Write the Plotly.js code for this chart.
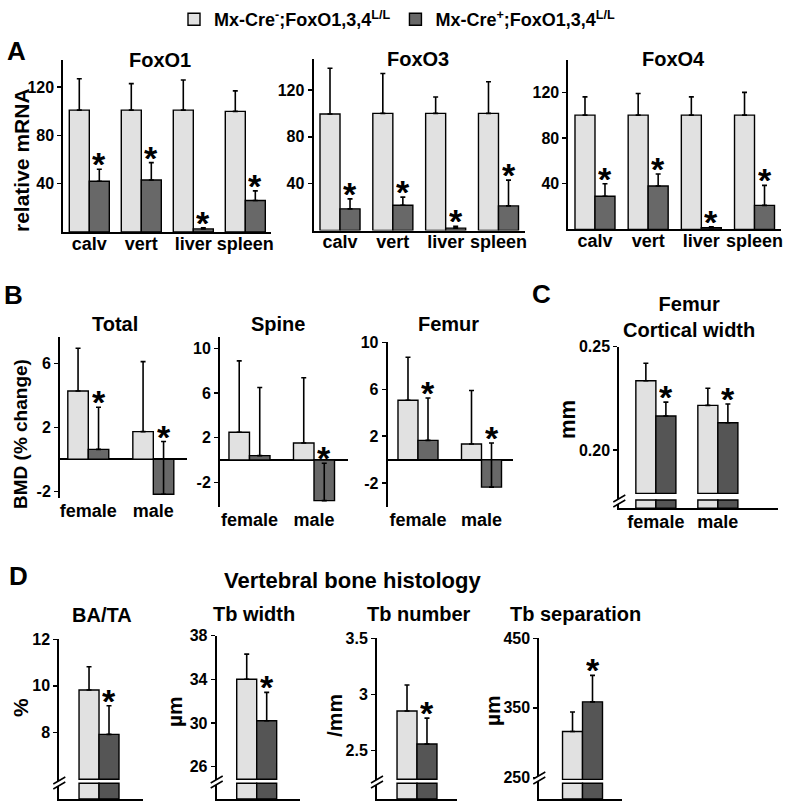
<!DOCTYPE html>
<html><head><meta charset="utf-8">
<script src="https://cdn.plot.ly/plotly-3.0.1.min.js"></script>
<style>html,body{margin:0;padding:0;background:#fff}</style>
</head><body><div id="chart" style="width:800px;height:809px"></div>
<script>
// ---------------- data ----------------
const legendNames = ['Mx-Cre<sup>-</sup>;FoxO1,3,4<sup>L/L</sup>', 'Mx-Cre<sup>+</sup>;FoxO1,3,4<sup>L/L</sup>'];
const geneNames = ['FoxO1', 'FoxO3', 'FoxO4'];
const tissues = ['calv', 'vert', 'liver', 'spleen'];
const foxo1Ctrl = [101, 101, 101, 100];
const foxo1CtrlErr = [26, 22, 25, 17];
const foxo1Ko = [42, 43, 2.5, 26];
const foxo1KoErr = [10, 14.5, 1, 8];
const foxo1Sig = [true, true, true, true];
const foxo3Ctrl = [99.5, 100, 100, 100];
const foxo3CtrlErr = [39, 34, 14, 27];
const foxo3Ko = [18.5, 21.5, 2, 21];
const foxo3KoErr = [8.5, 7, 1.5, 22];
const foxo3Sig = [true, true, true, true];
const foxo4Ctrl = [100, 100, 100, 100];
const foxo4CtrlErr = [16, 19, 16, 20];
const foxo4Ko = [29, 38, 1.5, 21];
const foxo4KoErr = [11, 10.5, 0.7, 17.5];
const foxo4Sig = [true, true, true, true];

const bmdSites = ['Total', 'Spine', 'Femur'];
const sexes = ['female', 'male'];
const totalCtrl = [4.27, 1.73];
const totalCtrlErr = [2.67, 4.37];
const totalKo = [0.62, -2.19];
const totalKoErr = [2.63, 3.3];
const totalSig = [true, true];
const spineCtrl = [2.48, 1.52];
const spineCtrlErr = [6.4, 5.85];
const spineKo = [0.39, -3.64];
const spineKoErr = [6.1, 3.35];
const spineSig = [false, true];
const femurCtrl = [5.06, 1.34];
const femurCtrlErr = [3.67, 4.55];
const femurKo = [1.65, -2.33];
const femurKoErr = [3.6, 3.75];
const femurSig = [true, true];

const corticalTitle = 'Femur<br>Cortical width';
const corticalCtrl = [0.2335, 0.2216];
const corticalCtrlErr = [0.0085, 0.0083];
const corticalKo = [0.2165, 0.2132];
const corticalKoErr = [0.0067, 0.0091];
const corticalSig = [true, true];

const histoTitle = 'Vertebral bone histology';
const histoParams = ['BA/TA', 'Tb width', 'Tb number', 'Tb separation'];
const histoUnits = ['%', 'µm', '/mm', 'µm'];
const histoGroup = ['vertebra'];
const batCtrl = [9.82];   const batCtrlErr = [1.0];   const batKo = [7.91];  const batKoErr = [1.23];
const tbwCtrl = [34.0];   const tbwCtrlErr = [2.3];   const tbwKo = [30.2];  const tbwKoErr = [2.6];
const tbnCtrl = [2.853];  const tbnCtrlErr = [0.232]; const tbnKo = [2.56];  const tbnKoErr = [0.23];
const tbsCtrl = [316];    const tbsCtrlErr = [28];    const tbsKo = [358.6]; const tbsKoErr = [38];
const histoSig = [true];

// ---------------- layout helpers ----------------
const W = 800, H = 809;
const fx = p => p / W;
const fy = p => 1 - p / H;
const LIGHT = '#e1e1e1', DARK = '#686868', DARK2 = '#555555';
const FONT = 'Arial, "Liberation Sans", sans-serif';

const panels = [
  {cats: tissues, ctrl: foxo1Ctrl, ctrlErr: foxo1CtrlErr, ko: foxo1Ko, koErr: foxo1KoErr, sig: foxo1Sig,
   xd: [63.3, 271.3], yd: [231.9, 60], xr: [-0.5, 3.5], yr: [0, 142.6], w: 0.385, yt: [40, 80, 120], xline: true, zero: false, dark: DARK, so: -6},
  {cats: tissues, ctrl: foxo3Ctrl, ctrlErr: foxo3CtrlErr, ko: foxo3Ko, koErr: foxo3KoErr, sig: foxo3Sig,
   xd: [313.6, 524.9], yd: [230.5, 59], xr: [-0.5, 3.5], yr: [0, 146.4], w: 0.379, yt: [40, 80, 120], xline: true, zero: false, dark: DARK, so: -6},
  {cats: tissues, ctrl: foxo4Ctrl, ctrlErr: foxo4CtrlErr, ko: foxo4Ko, koErr: foxo4KoErr, sig: foxo4Sig,
   xd: [568.4, 781.1], yd: [229.4, 60], xr: [-0.5, 3.5], yr: [0, 148.3], w: 0.376, yt: [40, 80, 120], xline: true, zero: false, dark: DARK, so: -6},
  {cats: sexes, ctrl: totalCtrl, ctrlErr: totalCtrlErr, ko: totalKo, koErr: totalKoErr, sig: totalSig,
   xd: [60, 187], yd: [498, 336.7], xr: [-0.435, 1.518], yr: [-2.42, 7.66], w: 0.315, yt: [-2, 2, 6], xline: false, zero: true, dark: DARK, so: 0},
  {cats: sexes, ctrl: spineCtrl, ctrlErr: spineCtrlErr, ko: spineKo, koErr: spineKoErr, sig: spineSig,
   xd: [220, 348], yd: [506.7, 336.7], xr: [-0.457, 1.527], yr: [-4.18, 11.04], w: 0.318, yt: [-2, 2, 6, 10], xline: false, zero: true, dark: DARK, so: 0},
  {cats: sexes, ctrl: femurCtrl, ctrlErr: femurCtrlErr, ko: femurKo, koErr: femurKoErr, sig: femurSig,
   xd: [387.7, 513], yd: [506.7, 341.7], xr: [-0.477, 1.496], yr: [-4.0, 10.05], w: 0.315, yt: [-2, 2, 6, 10], xline: false, zero: true, dark: DARK, so: 0},
  {cats: sexes, ctrl: corticalCtrl, ctrlErr: corticalCtrlErr, ko: corticalKo, koErr: corticalKoErr, sig: corticalSig,
   xd: [619.3, 778], yd: [508.3, 346.7], xr: [-0.59, 1.97], yr: [0.1718, 0.25], w: 0.323, yt: [0.20, 0.25], ytt: ['0.20', '0.25'],
   xline: true, zero: false, dark: DARK2, so: -4, brk: {main: 0.179, stub: 0.1758, mark: [619.3, 502]}},
  {cats: histoGroup, ctrl: batCtrl, ctrlErr: batCtrlErr, ko: batKo, koErr: batKoErr, sig: histoSig, hideX: true,
   xd: [59.3, 143], yd: [799, 639.3], xr: [-0.662, 0.733], yr: [5.13, 12], w: 0.333, yt: [8, 10, 12],
   xline: true, zero: false, dark: DARK2, so: 0, brk: {main: 5.98, stub: 5.805, mark: [59.3, 784]}},
  {cats: histoGroup, ctrl: tbwCtrl, ctrlErr: tbwCtrlErr, ko: tbwKo, koErr: tbwKoErr, sig: histoSig, hideX: true,
   xd: [216.7, 300], yd: [799, 635.6], xr: [-0.667, 0.722], yr: [23.04, 38], w: 0.333, yt: [26, 30, 34, 38],
   xline: true, zero: false, dark: DARK2, so: 0, brk: {main: 24.85, stub: 24.48, mark: [216.7, 783]}},
  {cats: histoGroup, ctrl: tbnCtrl, ctrlErr: tbnCtrlErr, ko: tbnKo, koErr: tbnKoErr, sig: histoSig, hideX: true,
   xd: [377, 456.7], yd: [799, 638.3], xr: [-0.667, 0.662], yr: [2.07, 3.5], w: 0.333, yt: [2.5, 3, 3.5], ytt: ['2.5', '3', '3.5'],
   xline: true, zero: false, dark: DARK2, so: 0, brk: {main: 2.246, stub: 2.21, mark: [377, 783]}},
  {cats: histoGroup, ctrl: tbsCtrl, ctrlErr: tbsCtrlErr, ko: tbsKo, koErr: tbsKoErr, sig: histoSig, hideX: true,
   xd: [539.3, 621.7], yd: [799, 638.3], xr: [-0.72, 0.653], yr: [218.8, 450], w: 0.333, yt: [250, 350, 450],
   xline: true, zero: false, dark: DARK2, so: 0, brk: {main: 247.1, stub: 241.4, mark: [539.3, 779]}}
];

const traces = [];
const layout = {
  width: W, height: H, margin: {l: 0, r: 0, t: 0, b: 0},
  paper_bgcolor: '#fff', plot_bgcolor: 'rgba(0,0,0,0)',
  font: {family: FONT, color: '#000', size: 16, weight: 'bold'},
  barmode: 'overlay', showlegend: true,
  legend: {orientation: 'h', x: fx(174), y: fy(1), xanchor: 'left', yanchor: 'top',
           font: {family: FONT, size: 18, weight: 'bold', color: '#000'}, bgcolor: 'rgba(0,0,0,0)', itemclick: false},
  annotations: [], shapes: []
};

panels.forEach((p, k) => {
  const n = k === 0 ? '' : String(k + 1);
  const xa = 'x' + n, ya = 'y' + n;
  const idx = p.cats.map((_, i) => i);
  const base = p.brk ? p.brk.main : 0;
  const mk = (vals, errs, color, off, name, leg) => {
    const t = {
      type: 'bar', x: idx, y: vals.map(v => v - base), width: p.w, offset: off,
      xaxis: xa, yaxis: ya, name: name, showlegend: leg, hoverinfo: 'skip',
      marker: {color: color, line: {color: '#000', width: 1.4}},
      error_y: {type: 'data', symmetric: false, array: errs, arrayminus: errs.map(() => 0),
                color: '#000', thickness: 1.6, width: 2.5, visible: true}
    };
    if (p.brk) t.base = base;
    return t;
  };
  traces.push(mk(p.ctrl, p.ctrlErr, LIGHT, -p.w, legendNames[0], k === 0));
  traces.push(mk(p.ko, p.koErr, k === 0 ? DARK : p.dark, 0, legendNames[1], k === 0));
  if (p.brk) {
    [[LIGHT, -p.w], [p.dark, 0]].forEach(([c, off]) => {
      traces.push({type: 'bar', x: idx, y: idx.map(() => p.brk.stub - p.yr[0]), base: p.yr[0],
        width: p.w, offset: off, xaxis: xa, yaxis: ya, showlegend: false, hoverinfo: 'skip',
        marker: {color: c, line: {color: '#000', width: 1.4}}});
    });
    const [cx, cy] = p.brk.mark;
    const P = (dx, dy) => fx(cx + dx) + ',' + fy(cy + dy);
    layout.shapes.push({type: 'path', xref: 'paper', yref: 'paper', layer: 'above',
      path: 'M' + P(-6, 0) + 'L' + P(6, -7) + 'L' + P(6, -2) + 'L' + P(-6, 5) + 'Z',
      fillcolor: '#fff', line: {width: 0}});
    layout.shapes.push({type: 'path', xref: 'paper', yref: 'paper', layer: 'above',
      path: 'M' + P(-6, 0) + 'L' + P(6, -7) + 'M' + P(-6, 5) + 'L' + P(6, -2),
      line: {color: '#000', width: 1.5}});
  }
  layout['xaxis' + n] = {
    domain: [fx(p.xd[0]), fx(p.xd[1])], anchor: ya, range: p.xr, type: 'linear',
    tickvals: idx, ticktext: p.cats, showticklabels: !p.hideX, ticks: '', ticklabelstandoff: p.so,
    tickfont: {size: 18, family: FONT, weight: 'bold'},
    showgrid: false, zeroline: false, showline: p.xline, linecolor: '#000', linewidth: 2, fixedrange: true
  };
  layout['yaxis' + n] = {
    domain: [fy(p.yd[0]), fy(p.yd[1])], anchor: xa, range: p.yr, type: 'linear',
    tickvals: p.yt, ticktext: p.ytt || p.yt.map(String), ticks: 'outside', ticklen: 4, tickwidth: 1.5, tickcolor: '#000',
    tickfont: {size: 16, family: FONT, weight: 'bold'},
    showgrid: false, zeroline: p.zero, zerolinecolor: '#000', zerolinewidth: 2,
    showline: true, linecolor: '#000', linewidth: 2, fixedrange: true
  };
  p.sig.forEach((s, i) => {
    if (!s) return;
    layout.annotations.push({xref: xa, yref: ya, x: i + p.w / 2, y: p.ko[i] + p.koErr[i], text: '*',
      showarrow: false, xanchor: 'center', yanchor: 'bottom', yshift: 3,
      height: 20, valign: 'top', borderpad: 0,
      font: {size: 34, family: FONT, weight: 'bold'}});
  });
});

const note = (text, x, y, size, angle) => layout.annotations.push({
  xref: 'paper', yref: 'paper', x: fx(x), y: fy(y), text: text, showarrow: false,
  xanchor: 'center', yanchor: 'middle', textangle: angle || 0,
  font: {size: size, family: FONT, weight: 'bold', color: '#000'}});

note('A', 16, 51, 26); note('B', 13, 295, 26); note('C', 541, 294, 26); note('D', 18, 576, 26);
note(geneNames[0], 160, 60, 20); note(geneNames[1], 418, 59, 20); note(geneNames[2], 673, 59, 20);
note(bmdSites[0], 115, 324, 20); note(bmdSites[1], 278, 324, 20); note(bmdSites[2], 448, 324, 20);
note(corticalTitle, 689, 317, 20);
note(histoTitle, 352, 580, 22);
note(histoParams[0], 102, 615, 20); note(histoParams[1], 254, 614, 20);
note(histoParams[2], 419, 614, 20); note(histoParams[3], 575, 614, 20);
note('relative mRNA', 21, 160, 21, -90);
note('BMD (% change)', 20, 434, 19, -90);
note('mm', 567, 420, 22, -90);
note(histoUnits[0], 20, 708, 21, -90); note(histoUnits[1], 174, 712, 21, -90);
note(histoUnits[2], 334, 716, 21, -90); note(histoUnits[3], 492, 711, 21, -90);

Plotly.newPlot('chart', traces, layout, {displayModeBar: false, staticPlot: true});
</script>
</body></html>
